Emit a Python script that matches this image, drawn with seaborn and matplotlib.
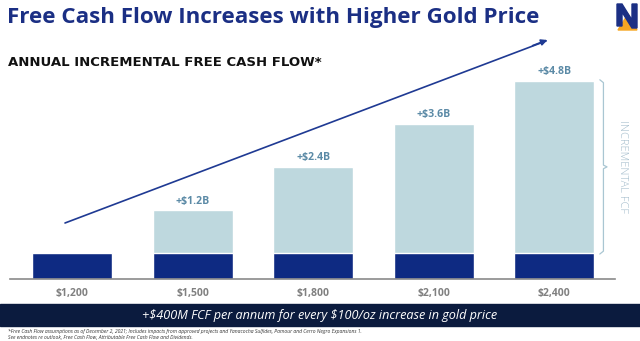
import matplotlib
matplotlib.use("Agg")
import matplotlib.pyplot as plt
import seaborn as sns
import pandas as pd
from matplotlib.patches import Polygon, Rectangle

# ---- data ----
gold_prices = ["$1,200", "$1,500", "$1,800", "$2,100", "$2,400"]
base_fcf = [0.7, 0.7, 0.7, 0.7, 0.7]          # base FCF (B$), dark segment
incremental_fcf = [0.0, 1.2, 2.4, 3.6, 4.8]   # incremental FCF (B$)
inc_labels = ["", "+$1.2B", "+$2.4B", "+$3.6B", "+$4.8B"]

df = pd.DataFrame({"price": gold_prices, "base": base_fcf, "inc": incremental_fcf})
df["total"] = df["base"] + df["inc"]

NAVY = "#0e2a82"
LIGHT = "#bed8de"
TITLE = "#1b2f84"
LABEL = "#5b8aa6"

sns.set_theme(style="white")
plt.rcParams["font.family"] = ["Open Sans", "DejaVu Sans"]

W, H = 640, 341
fig = plt.figure(figsize=(W / 100, H / 100), dpi=100)
fig.patch.set_facecolor("white")

ax_l, ax_r, ax_b, ax_t = 10, 615, 278.5, 30
ax = fig.add_axes([ax_l / W, (H - ax_b) / H, (ax_r - ax_l) / W, (ax_b - ax_t) / H])

sns.barplot(data=df, x="price", y="total", color=LIGHT, saturation=1, width=0.664, ax=ax)
sns.barplot(data=df, x="price", y="base", color=NAVY, saturation=1, width=0.664, ax=ax)

px_per_b = 36.0
ax.set_ylim(0, (ax_b - ax_t) / px_per_b)
ax.set_xlim(-0.515, 4.506)
for s in ["top", "right", "left"]:
    ax.spines[s].set_visible(False)
ax.spines["bottom"].set_color("#8a8a8a")
ax.spines["bottom"].set_linewidth(1.2)
ax.set_xlabel("")
ax.set_ylabel("")
ax.set_yticks([])
ax.tick_params(axis="x", length=0, pad=7, labelsize=7.5, labelcolor="#808080")
for t in ax.get_xticklabels():
    t.set_fontweight("bold")

for i, (tot, lab) in enumerate(zip(df["total"], inc_labels)):
    if lab:
        ax.annotate(lab, (i, tot), xytext=(0, 2.5), textcoords="offset points",
                    ha="center", va="bottom", fontsize=7.6, fontweight="bold", color=LABEL)

# brace beside the last bar
last = len(df) - 1
x0 = last + 0.41
y_lo, y_hi = df["base"].iloc[last], df["total"].iloc[last]
ym = (y_lo + y_hi) / 2
bx = [x0 - 0.03, x0, x0, x0 + 0.03, x0, x0, x0 - 0.03]
by = [y_hi + 0.02, y_hi - 0.06, ym + 0.05, ym, ym - 0.05, y_lo + 0.06, y_lo - 0.02]
ax.plot(bx, by, color="#a9c6d2", lw=0.9, clip_on=False)
ax.text(x0 + 0.155, ym, "INCREMENTAL FCF", rotation=270, ha="center", va="center",
        fontsize=8, color="#a3bccb", fontweight="light")

# trend arrow
fig.add_artist(plt.Line2D([65 / W, 546 / W], [1 - 223 / H, 1 - 41 / H], color="#1f3a93", lw=1.2))
ax.annotate("", xy=(550 / W, 1 - 39 / H), xytext=(530 / W, 1 - 46.6 / H),
            xycoords="figure fraction", textcoords="figure fraction",
            arrowprops=dict(arrowstyle="-|>", color="#1f3a93", lw=1.2, mutation_scale=9))

# titles
fig.text(7 / W, 1 - 17 / H, "Free Cash Flow Increases with Higher Gold Price",
         fontsize=16.1, fontweight="bold", color=TITLE, va="center", ha="left")
fig.text(8 / W, 1 - 63 / H, "ANNUAL INCREMENTAL FREE CASH FLOW*",
         fontsize=9.5, fontweight="bold", color="#111111", va="center", ha="left",
         family="DejaVu Sans")

# logo
fig.add_artist(Polygon([[618 / W, 1 - 30 / H], [628 / W, 1 - 14 / H], [637 / W, 1 - 30 / H]],
                       closed=True, color="#f5a623", transform=fig.transFigure))
fig.add_artist(Polygon([[617 / W, 1 - 4 / H], [622 / W, 1 - 4 / H], [632 / W, 1 - 20 / H],
                        [632 / W, 1 - 4 / H], [637 / W, 1 - 4 / H], [637 / W, 1 - 28 / H],
                        [632 / W, 1 - 28 / H], [622 / W, 1 - 12 / H], [622 / W, 1 - 26 / H],
                        [617 / W, 1 - 26 / H]],
                       closed=True, color=TITLE, transform=fig.transFigure))

# banner
fig.add_artist(Rectangle((0, 1 - 326 / H), 1, 22 / H, color="#0b1b3e", transform=fig.transFigure))
fig.text(0.5, 1 - 315 / H, r"+\$400M FCF per annum for every \$100/oz increase in gold price",
         fontsize=9.1, style="italic", color="white", ha="center", va="center")

# footnotes
fig.text(8 / W, 1 - 331 / H,
         "*Free Cash Flow assumptions as of December 2, 2021; Includes impacts from approved projects and Yanacocha Sulfides, Pamour and Cerro Negro Expansions 1.",
         fontsize=3.6, style="italic", color="#333333", ha="left", va="center")
fig.text(8 / W, 1 - 337 / H,
         "See endnotes re outlook, Free Cash Flow, Attributable Free Cash Flow and Dividends.",
         fontsize=3.6, style="italic", color="#333333", ha="left", va="center")

fig.savefig("out.png", dpi=100)
